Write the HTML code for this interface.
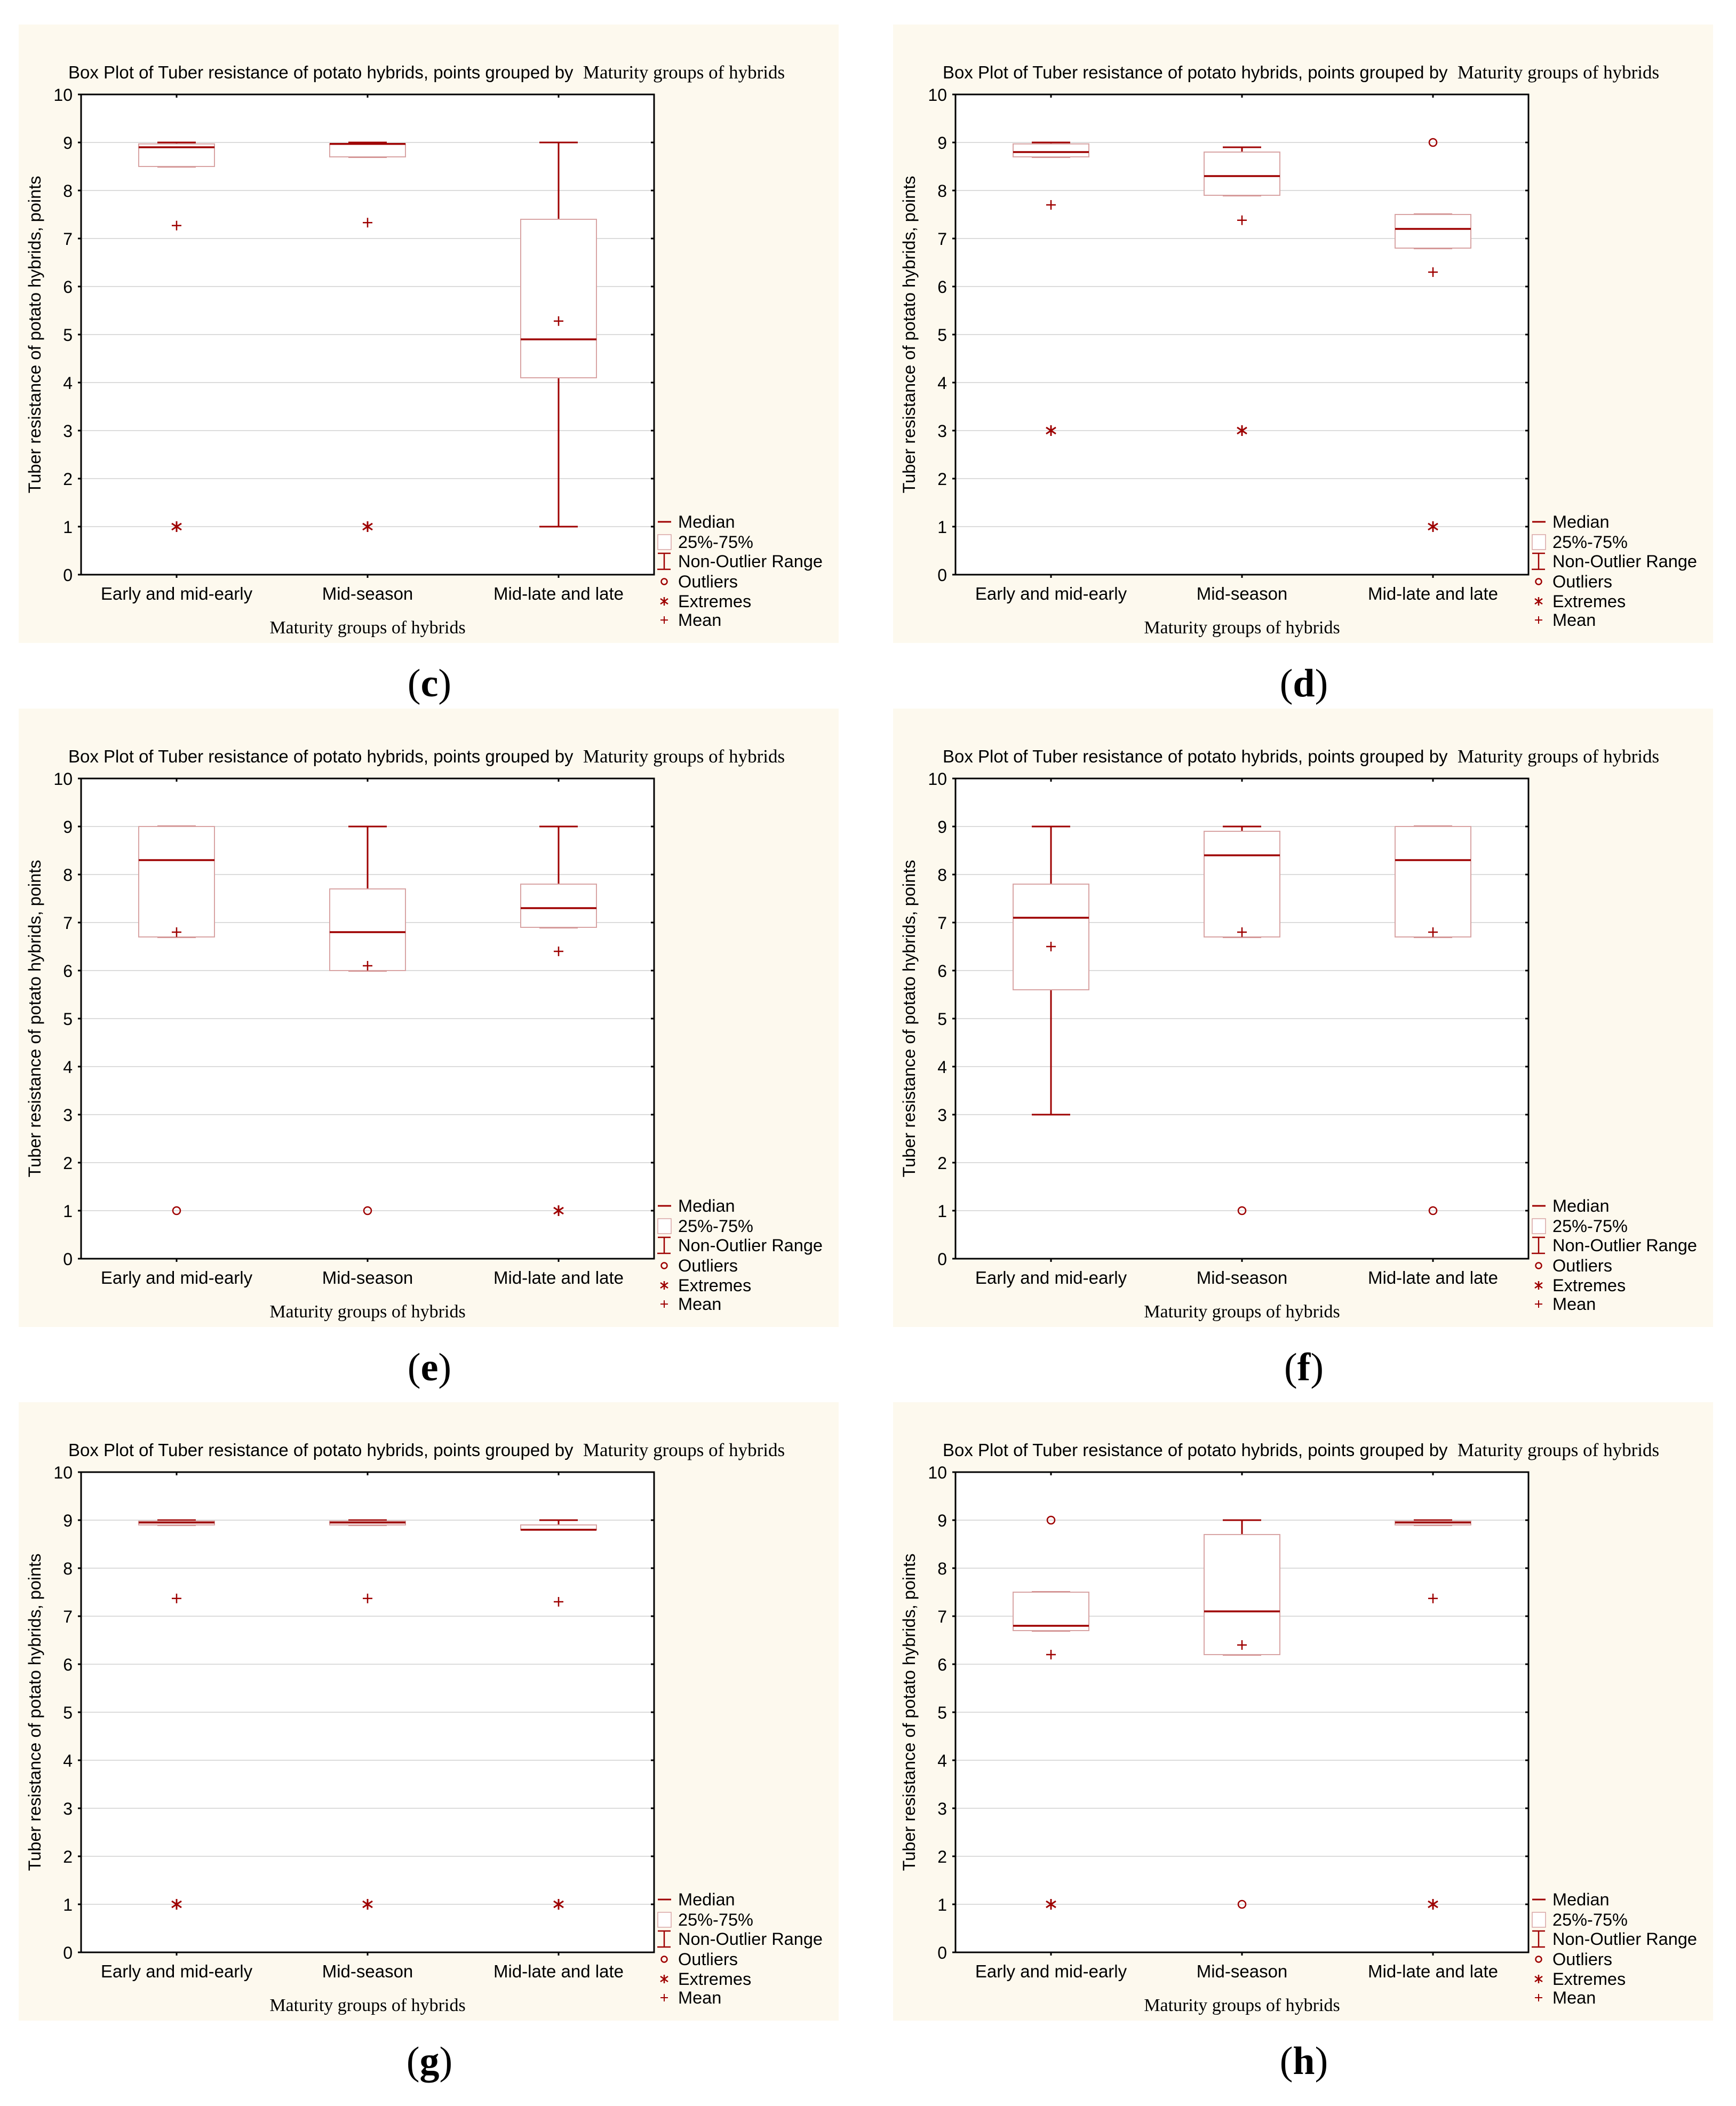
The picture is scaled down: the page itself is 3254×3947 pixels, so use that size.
<!DOCTYPE html>
<html><head><meta charset="utf-8"><style>
html,body{margin:0;padding:0;background:#fff;}
svg{display:block;}
.sans{font-family:"Liberation Sans",sans-serif;}
.serif{font-family:"Liberation Serif",serif;}
</style></head><body>
<svg id="fig" width="3254" height="3947" viewBox="0 0 3254 3947" xmlns="http://www.w3.org/2000/svg"></svg>
<script>
const panelLabels = ["c","d","e","f","g","h"];
const categories = ["Early and mid-early","Mid-season","Mid-late and late"];
const yTicks = [0,1,2,3,4,5,6,7,8,9,10];
const legendLabels = ["Median","25%-75%","Non-Outlier Range","Outliers","Extremes","Mean"];
const medians = [[8.9,8.97,4.9],[8.8,8.3,7.2],[8.3,6.8,7.3],[7.1,8.4,8.3],[8.95,8.95,8.8],[6.8,7.1,8.95]];
const q1 = [[8.5,8.7,4.1],[8.7,7.9,6.8],[6.7,6.0,6.9],[5.6,6.7,6.7],[8.9,8.9,8.8],[6.7,6.2,8.9]];
const q3 = [[8.97,8.97,7.4],[8.97,8.8,7.5],[9.0,7.7,7.8],[7.8,8.9,9.0],[8.98,8.98,8.9],[7.5,8.7,8.98]];
const wLow = [[8.5,8.7,1],[8.7,7.9,6.8],[6.7,6.0,6.9],[3,6.7,6.7],[8.9,8.9,8.8],[6.7,6.2,8.9]];
const wHigh = [[9,9,9],[9,8.9,7.5],[9,9,9],[9,9,9],[9,9,9],[7.5,9,9]];
const means = [[7.27,7.33,5.28],[7.7,7.38,6.3],[6.8,6.1,6.4],[6.5,6.8,6.8],[7.37,7.37,7.3],[6.2,6.4,7.37]];
const outliers = [[[],[],[]],[[],[],[9]],[[1],[1],[]],[[],[1],[1]],[[],[],[]],[[9],[1],[]]];
const extremes = [[[1],[1],[]],[[3],[3],[1]],[[],[],[1]],[[],[],[]],[[1],[1],[1]],[[1],[],[1]]];

const NS="http://www.w3.org/2000/svg";
const svg=document.getElementById('fig');
const RED="#9e0000", BOXC="#d8a4a4";
function mk(tag,attrs,parent,text){const e=document.createElementNS(NS,tag);for(const k in attrs)e.setAttribute(k,attrs[k]);if(text!==undefined)e.textContent=text;parent.appendChild(e);return e;}

const colOff=[0,1639], rowOff=[0,1282,2582];
const PL=152,PR=1226,PT=177,PB=1077;
for(let p=0;p<6;p++){
  const ox=colOff[p%2], oy=rowOff[Math.floor(p/2)];
  const g=mk('g',{transform:`translate(${ox},${oy})`},svg);
  
  
  const yS=v=>PB-(v/10)*(PB-PT);
  const xS=i=>PL+(PR-PL)*(2*i+1)/6;
  const bg=mk('rect',{x:35,y:46,width:1537,height:1159,fill:'#fdf9ee'},g);
  
  
  mk('rect',{x:PL,y:PT,width:PR-PL,height:PB-PT,fill:'#fff'},g);
  const t=mk('text',{x:128,y:147,'font-size':33,class:'sans'},g);
  
  
  mk('tspan',{},t,'Box Plot of Tuber resistance of potato hybrids, points grouped by\u00a0\u00a0');
  mk('tspan',{class:'serif','font-size':35},t,'Maturity groups of hybrids');
  yTicks.forEach(v=>{
    const y=yS(v);
    if(v>0&&v<10){const gl=mk('line',{x1:PL,x2:PR,y1:y,y2:y,stroke:'#dcdcdc','stroke-width':2},g);
      }
    mk('line',{x1:PL-6,x2:PL,y1:y,y2:y,stroke:'#000','stroke-width':3},g);
    mk('line',{x1:PR-6,x2:PR,y1:y,y2:y,stroke:'#000','stroke-width':3},g);
    const tl=mk('text',{x:136,y:y+12,'font-size':32,'text-anchor':'end',class:'sans'},g,String(v));
    
  });
  categories.forEach((c,i)=>{
    const x=xS(i);
    mk('line',{x1:x,x2:x,y1:PT,y2:PT+6,stroke:'#000','stroke-width':3},g);
    mk('line',{x1:x,x2:x,y1:PB,y2:PB+6,stroke:'#000','stroke-width':3},g);
    const cl=mk('text',{x:x,y:1124,'font-size':33,'text-anchor':'middle',class:'sans'},g,c);
    
  });
  categories.forEach((c,i)=>{
    const x=xS(i);
    const bx=mk('g',{},g);
    
    
    mk('line',{x1:x,x2:x,y1:yS(wLow[p][i]),y2:yS(q1[p][i]),stroke:RED,'stroke-width':3},bx);
    mk('line',{x1:x,x2:x,y1:yS(wHigh[p][i]),y2:yS(q3[p][i]),stroke:RED,'stroke-width':3},bx);
    mk('line',{x1:x-36,x2:x+36,y1:yS(wLow[p][i]),y2:yS(wLow[p][i]),stroke:RED,'stroke-width':3},bx);
    mk('line',{x1:x-36,x2:x+36,y1:yS(wHigh[p][i]),y2:yS(wHigh[p][i]),stroke:RED,'stroke-width':3},bx);
    mk('rect',{x:x-71,y:yS(q3[p][i]),width:142,height:Math.max(1,yS(q1[p][i])-yS(q3[p][i])),fill:'#fff',stroke:BOXC,'stroke-width':2},bx);
    mk('line',{x1:x-71,x2:x+71,y1:yS(medians[p][i]),y2:yS(medians[p][i]),stroke:RED,'stroke-width':3.5},bx);
    const my=yS(means[p][i]);
    const mn=mk('path',{d:`M${x-9},${my}H${x+9}M${x},${my-9}V${my+9}`,stroke:RED,'stroke-width':2.5,fill:'none'},g);
    
    outliers[p][i].forEach(v=>{
      const o=mk('circle',{cx:x,cy:yS(v),r:7,fill:'none',stroke:RED,'stroke-width':2.5},g);
      
    });
    extremes[p][i].forEach(v=>{
      const y=yS(v);
      const e=mk('path',{d:`M${x},${y-10}V${y+10}M${x-9},${y-6}L${x+9},${y+6}M${x-9},${y+6}L${x+9},${y-6}`,stroke:RED,'stroke-width':3,fill:'none'},g);
      
    });
  });
  mk('rect',{x:PL,y:PT,width:PR-PL,height:PB-PT,fill:'none',stroke:'#000','stroke-width':3},g);
  const yl=mk('text',{x:0,y:0,'font-size':32.5,'text-anchor':'middle',class:'sans',transform:`translate(76,${(PT+PB)/2}) rotate(-90)`},g,'Tuber resistance of potato hybrids, points');
  
  const xl=mk('text',{x:(PL+PR)/2,y:1187,'font-size':34,'text-anchor':'middle',class:'serif'},g,'Maturity groups of hybrids');
  
  const lg=mk('g',{},g);
  
  const rowsY=[978,1016,1052,1090,1127,1162];
  legendLabels.forEach((lab,k)=>{
    const cy=rowsY[k], cx=1245;
    if(k===0) mk('line',{x1:cx-12,x2:cx+13,y1:cy,y2:cy,stroke:RED,'stroke-width':3},lg);
    if(k===1) mk('rect',{x:cx-12,y:cy-14,width:25,height:28,fill:'#fff',stroke:BOXC,'stroke-width':1.5},lg);
    if(k===2) mk('path',{d:`M${cx-12},${cy-15}H${cx+12}M${cx},${cy-15}V${cy+15}M${cx-13},${cy+15}H${cx+12}`,stroke:RED,'stroke-width':2.5,fill:'none'},lg);
    if(k===3) mk('circle',{cx:cx,cy:cy,r:5.5,fill:'none',stroke:RED,'stroke-width':2.5},lg);
    if(k===4) mk('path',{d:`M${cx},${cy-8}V${cy+8}M${cx-7},${cy-5}L${cx+7},${cy+5}M${cx-7},${cy+5}L${cx+7},${cy-5}`,stroke:RED,'stroke-width':2.5,fill:'none'},lg);
    if(k===5) mk('path',{d:`M${cx-7},${cy}H${cx+7}M${cx},${cy-7}V${cy+7}`,stroke:RED,'stroke-width':2,fill:'none'},lg);
    const lt=mk('text',{x:1271,y:cy+11,'font-size':32.5,class:'sans'},lg,lab);
    
  });
  const cap=mk('text',{x:805,y:1305,'font-size':74,'text-anchor':'middle',class:'serif'},g);
  
  mk('tspan',{},cap,'(');
  mk('tspan',{'font-weight':'bold'},cap,panelLabels[p]);
  mk('tspan',{},cap,')');
}
</script>
</body></html>
